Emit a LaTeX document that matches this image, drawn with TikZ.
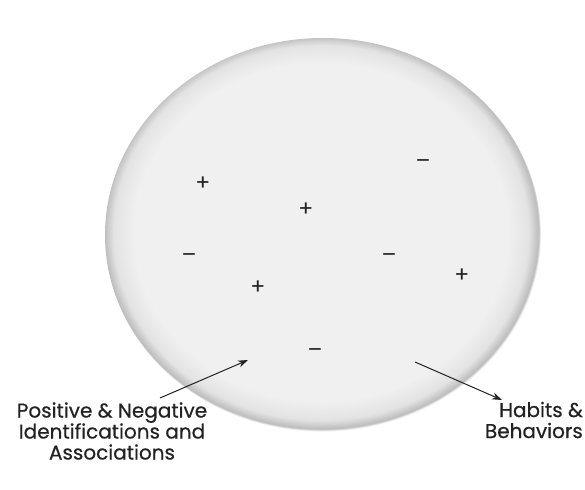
\documentclass[tikz,border=0pt]{standalone}
\usepackage{fontspec}
\setmainfont{Poppins}
\newfontfamily\rotulofont[FakeBold=0.5]{Poppins}
\usepackage{tikz}
\usetikzlibrary{positioning,arrows.meta}
\definecolor{tinta}{HTML}{222222}
\pgfdeclareradialshading{orbe}{\pgfpoint{-0.4bp}{0.6bp}}{color(0bp)=(white!94!black); color(21.5bp)=(white!94!black); color(23.8bp)=(white!89!black); color(24.9bp)=(white!74!black); color(25.2bp)=(white); color(50bp)=(white)}
\tikzset{
  signo/.style={font=\fontsize{22}{22}\selectfont,text=tinta,inner sep=0pt},
  rotulo/.style={font=\rotulofont\fontsize{20}{21}\selectfont,text=tinta,align=center,inner sep=0pt},
  flecha/.style={draw=tinta,line width=1pt,-{Stealth[length=10pt,width=7pt]}}
}

\begin{document}
\begin{tikzpicture}[x=1pt,y=-1pt]
        \useasboundingbox (0,0) rectangle (585,489);
        \shade[shading=orbe] (323,235) ellipse [x radius=218,y radius=197];
        \foreach \px/\py/\s [count=\i] in {203/184/+,306/210/+,258/288/+,462/276/+,189/258/--,423/164/--,389/258/--,315/353/--}{
          \node[signo] (signo\i) at (\px,\py) {\s};
        }
        \node[rotulo] (ident) at (112,431) {Positive \& Negative\\ Identifications and\\ Associations};
        \node[rotulo,align=right,anchor=east] (habitos) at (583,420) {Habits \&\\ Behaviors};
        \coordinate (ident-a) at (160,398);
        \coordinate (ident-b) at (248,360);
        \coordinate (habitos-a) at (415,362);
        \coordinate (habitos-b) at (502,400);
        \draw[flecha] (ident-a) -- (ident-b);
        \draw[flecha] (habitos-a) -- (habitos-b);
      \end{tikzpicture}
\end{document}
